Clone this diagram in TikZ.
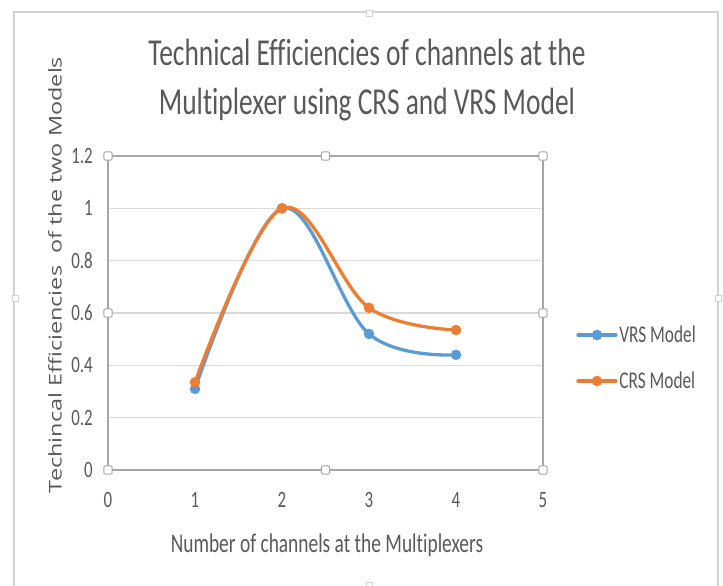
\documentclass[tikz,border=0pt]{standalone}
\usepackage{fontspec}
\setmainfont[FakeStretch=0.72, Ligatures=NoCommon]{Carlito}
\newfontfamily\axisfont{Open Sans}
\definecolor{vrsblue}{HTML}{5B9BD5}
\definecolor{crsorange}{HTML}{ED7D31}
\definecolor{txtgray}{HTML}{595959}
\definecolor{gridgray}{HTML}{D9D9D9}
\definecolor{framegray}{HTML}{A6A6A6}
\tikzset{
  handle/.style={draw=framegray, fill=white, line width=0.8pt, minimum size=7pt, inner sep=0pt, rounded corners=1pt},
  framehandle/.style={draw=gray!35, fill=white, line width=0.7pt, minimum size=5pt, inner sep=0pt},
  series/.style={line width=2.8pt, line cap=round},
  lbl/.style={text=txtgray, inner sep=1pt}
}
\begin{document}
\begin{tikzpicture}[x=0.03cm, y=-0.03cm]
\useasboundingbox (0,0) rectangle (723,586);

% chart area border
\draw[gray!35, line width=1pt] (14,586) -- (14,12) -- (718,12) -- (718,586);
\node[framehandle] (fh1) at (369,13) {};
\node[framehandle] (fh2) at (15,298) {};
\node[framehandle] (fh3) at (718,298) {};
\node[framehandle] (fh4) at (369,585) {};

\node[lbl, align=center, font=\fontsize{32.5}{42}\selectfont] (title) at (367,80)
  {Technical Efficiencies of channels at the\\Multiplexer using CRS and VRS Model};

% plot area, one unit per channel / per efficiency
\begin{scope}[shift={(108,470)}, x=2.61cm, y=7.85cm]
  \foreach \v in {0.2,0.4,0.6,0.8,1}
    \draw[gridgray, line width=1pt] (0,\v) -- (5,\v);
  \draw[framegray, line width=1.6pt] (0,0) rectangle (5,1.2);

  \foreach \v [count=\i] in {0,0.2,0.4,0.6,0.8,1,1.2}
    \node[lbl, anchor=east, font=\fontsize{20}{22}\selectfont] (yl\i) at (-0.16,\v) {\v};
  \foreach \x in {0,...,5}
    \node[lbl, font=\fontsize{20}{22}\selectfont] (xl\x) at (\x,-0.115) {\x};

  \draw[series, vrsblue] plot[smooth, tension=0.6] coordinates {(1,0.31) (2,1) (3,0.52) (4,0.44)};
  \draw[series, crsorange] plot[smooth, tension=0.6] coordinates {(1,0.335) (2,1) (3,0.62) (4,0.535)};
  \foreach \p in {(1,0.31),(2,1),(3,0.52),(4,0.44)}
    \fill[vrsblue] \p circle (4.5pt);
  \foreach \p in {(1,0.335),(2,1),(3,0.62),(4,0.535)}
    \fill[crsorange] \p circle (4.5pt);

  \foreach \p [count=\i] in {(0,0),(2.5,0),(5,0),(0,0.6),(5,0.6),(0,1.2),(2.5,1.2),(5,1.2)}
    \node[handle] (h\i) at \p {};
\end{scope}

\node[lbl, font=\fontsize{23}{26}\selectfont] (xtitle) at (327,545) {Number of channels at the Multiplexers};
\node[lbl, rotate=90, font=\axisfont\fontsize{20}{24}\selectfont] (ytitle) at (55,275)
  {\scalebox{1}[0.75]{Techincal Efficiencies\ \ of the two Models}};

% legend
\draw[series, vrsblue] (578,335) -- (616,335);
\fill[vrsblue] (597,335) circle (4.5pt);
\node[lbl, anchor=west, font=\fontsize{20.5}{22}\selectfont] (vrs) at (618,334) {VRS Model};
\draw[series, crsorange] (578,381) -- (616,381);
\fill[crsorange] (597,381) circle (4.5pt);
\node[lbl, anchor=west, font=\fontsize{20.5}{22}\selectfont] (crs) at (618,380) {CRS Model};
\end{tikzpicture}
\end{document}
